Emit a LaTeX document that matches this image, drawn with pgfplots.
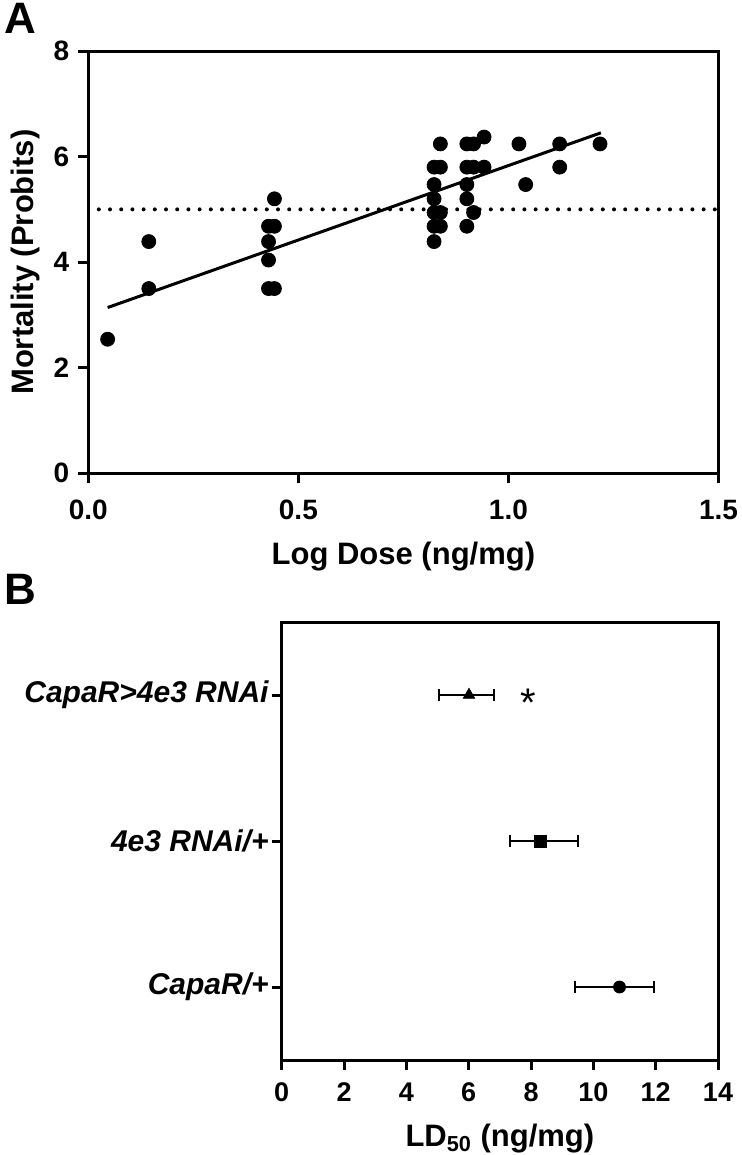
\documentclass[border=0pt]{standalone}
\usepackage{fontspec}
\setmainfont{Liberation Sans}
\usepackage{pgfplots}
\pgfplotsset{compat=1.18}
\begin{document}
\begin{tikzpicture}
\useasboundingbox (0,0) rectangle (371pt,-577.5pt);
\node[anchor=north west, inner sep=0, font=\fontsize{22}{22}\selectfont\bfseries] at (2pt,-1.5pt) {A};
\node[anchor=north west, inner sep=0, font=\fontsize{22}{22}\selectfont\bfseries] at (2pt,-287pt) {B};
\pgfplotsset{common/.style={
  scale only axis,
  tick align=outside, tick pos=left, major tick length=5pt,
  axis line style={line width=1.5pt},
  every tick/.style={line width=1.5pt, black},
  /pgf/number format/assume math mode=true,
  label style={font=\fontsize{15.5}{15.5}\selectfont\bfseries},
  clip=false,
}}
\begin{axis}[common,
  at={(44.15pt,-236.65pt)}, anchor=south west,
  width=315.1pt, height=211.15pt,
  xmin=0, xmax=1.5, ymin=0, ymax=8,
  xtick={0,0.5,1,1.5}, ytick={0,2,4,6,8},
  ticklabel style={font=\fontsize{14}{14}\selectfont\bfseries},
  xticklabel style={yshift=-5pt, /pgf/number format/.cd, fixed, fixed zerofill, precision=1},
  yticklabel style={xshift=-1pt},
  xlabel={Log Dose (ng/mg)}, ylabel={Mortality (Probits)},
  xlabel style={yshift=-4pt},
]
\addplot[black, line width=2pt, line cap=round, dash pattern=on 0pt off 5.6pt] coordinates {(0.025,5) (1.5,5)};
\addplot[black, line width=1.5pt] coordinates {(0.046,3.14) (1.22,6.45)};
\addplot[only marks, mark=*, mark size=3.5pt, black] coordinates {
(0.046,2.54)
(0.144,4.39) (0.144,3.50)
(0.429,4.68) (0.429,4.39) (0.429,4.04) (0.429,3.50)
(0.443,5.20) (0.443,4.68) (0.443,3.50)
(0.823,5.80) (0.823,5.47) (0.823,5.20) (0.823,4.94) (0.823,4.68) (0.823,4.39)
(0.838,6.24) (0.838,5.80) (0.838,4.94) (0.838,4.68)
(0.901,6.24) (0.901,5.80) (0.901,5.47) (0.901,5.20) (0.901,4.68)
(0.917,6.24) (0.917,5.80) (0.917,4.94)
(0.942,6.37) (0.942,5.80)
(1.025,6.24)
(1.041,5.47)
(1.122,6.24) (1.122,5.80)
(1.218,6.24)
};
\end{axis}
\begin{axis}[common,
  at={(140.85pt,-530pt)}, anchor=south west,
  width=218.15pt, height=219pt,
  xmin=0, xmax=14, ymin=0.5, ymax=3.5,
  xtick={0,2,...,14}, ytick={1,2,3},
  yticklabels={CapaR/+, 4e3 RNAi/+, CapaR>4e3 RNAi},
  xticklabel style={font=\fontsize{13.5}{13.5}\selectfont\bfseries, yshift=-3pt},
  yticklabel style={font=\fontsize{15}{15}\selectfont\bfseries\itshape, xshift=2pt},
  xlabel={LD\textsubscript{50} (ng/mg)},
  xlabel style={yshift=-4pt},
]
\addplot[black, only marks, mark=*, mark size=3pt,
  error bars/.cd, x dir=both, x explicit,
  error bar style={line width=1pt, black},
  error mark options={rotate=90, line width=1pt, mark size=3pt, black}]
  coordinates {(10.84,1) += (1.12,0) -= (1.44,0)};
\addplot[black, only marks, mark=square*, mark size=3pt,
  error bars/.cd, x dir=both, x explicit,
  error bar style={line width=1pt, black},
  error mark options={rotate=90, line width=1pt, mark size=3pt, black}]
  coordinates {(8.31,2) += (1.21,0) -= (0.98,0)};
\addplot[black, only marks, mark=triangle*, mark size=3.3pt,
  error bars/.cd, x dir=both, x explicit,
  error bar style={line width=1pt, black},
  error mark options={rotate=90, line width=1pt, mark size=3pt, black}]
  coordinates {(6.01,3) += (0.81,0) -= (0.95,0)};
\node[font=\fontsize{20}{20}\selectfont, yshift=-4pt] at (axis cs:7.9,3) {*};
\end{axis}
\end{tikzpicture}
\end{document}
